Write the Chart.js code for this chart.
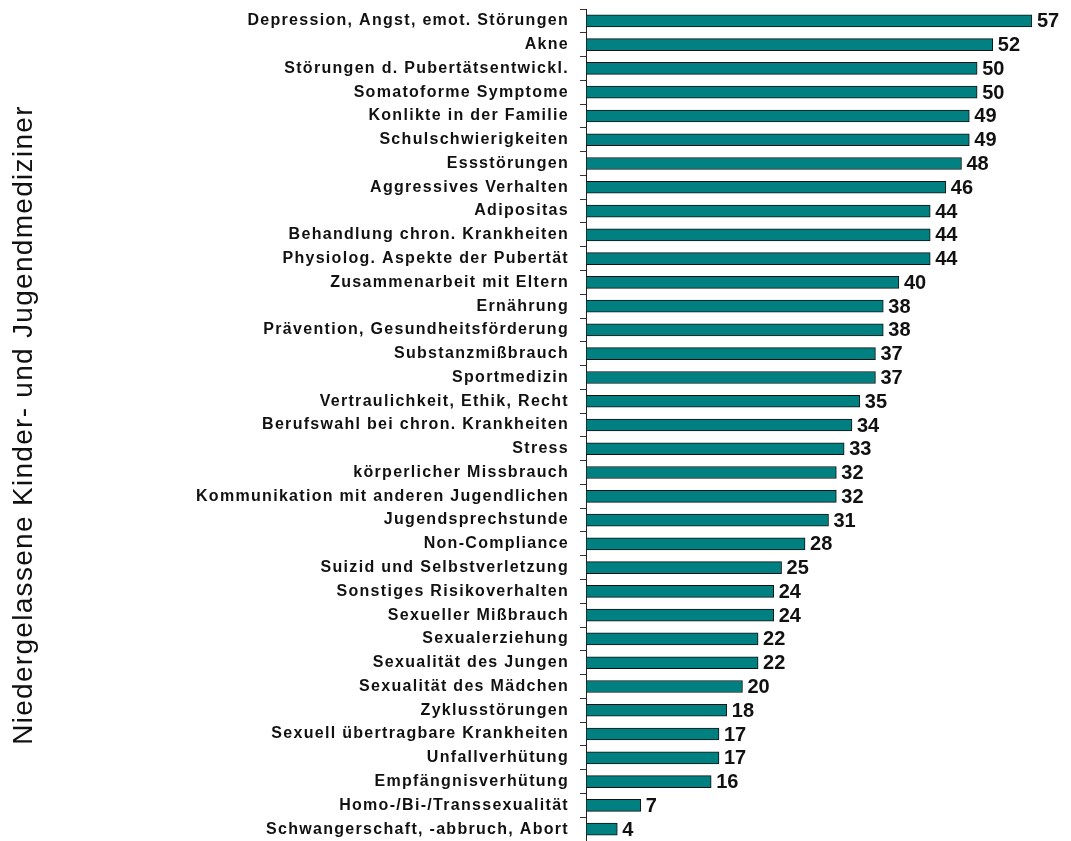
<!DOCTYPE html>
<html><head><meta charset="utf-8">
<script src="https://cdn.jsdelivr.net/npm/chart.js@4.4.1/dist/chart.umd.min.js"></script>
<style>html,body{margin:0;padding:0;background:#fff}#wrap{width:1071px;height:841px}</style>
</head><body><div id="wrap"><canvas id="c" width="1071" height="841"></canvas></div>
<script>
const categories = [
 "Depression, Angst, emot. Störungen","Akne","Störungen d. Pubertätsentwickl.","Somatoforme Symptome",
 "Konlikte in der Familie","Schulschwierigkeiten","Essstörungen","Aggressives Verhalten","Adipositas",
 "Behandlung chron. Krankheiten","Physiolog. Aspekte der Pubertät","Zusammenarbeit mit Eltern","Ernährung",
 "Prävention, Gesundheitsförderung","Substanzmißbrauch","Sportmedizin","Vertraulichkeit, Ethik, Recht",
 "Berufswahl bei chron. Krankheiten","Stress","körperlicher Missbrauch","Kommunikation mit anderen Jugendlichen",
 "Jugendsprechstunde","Non-Compliance","Suizid und Selbstverletzung","Sonstiges Risikoverhalten",
 "Sexueller Mißbrauch","Sexualerziehung","Sexualität des Jungen","Sexualität des Mädchen","Zyklusstörungen",
 "Sexuell übertragbare Krankheiten","Unfallverhütung","Empfängnisverhütung","Homo-/Bi-/Transsexualität",
 "Schwangerschaft, -abbruch, Abort"
];
const values = [57,52,50,50,49,49,48,46,44,44,44,40,38,38,37,37,35,34,33,32,32,31,28,25,24,24,22,22,20,18,17,17,16,7,4];
const axisTitle = "Niedergelassene Kinder- und Jugendmediziner";

const spacingPlugin = {
  id:'spacing',
  beforeDraw(chart){ chart.ctx.letterSpacing = '1.3px'; }
};
const valueLabels = {
  id:'valueLabels',
  afterDatasetsDraw(chart){
    const ctx = chart.ctx;
    const meta = chart.getDatasetMeta(0);
    ctx.save();
    ctx.letterSpacing = '0px';
    ctx.font = 'bold 20px "Liberation Sans", Arial, sans-serif';
    ctx.fillStyle = '#111';
    ctx.textAlign = 'left';
    ctx.textBaseline = 'middle';
    meta.data.forEach((bar,i)=>{
      ctx.fillText(String(chart.data.datasets[0].data[i]), bar.x + 5, bar.y + 1);
    });
    ctx.restore();
  }
};

new Chart(document.getElementById('c'), {
  type:'bar',
  data:{ labels: categories, datasets:[{ data: values, backgroundColor:'#008080', borderColor:'#111', borderWidth:1, borderSkipped:false, barThickness:12 }]},
  options:{
    indexAxis:'y', responsive:false, animation:false,
    layout:{ padding:{ top:9, bottom:0, left:0, right:0 } },
    plugins:{ legend:{display:false}, tooltip:{enabled:false} },
    scales:{
      x:{ display:false, min:0, max:62 },
      y:{
        afterFit(s){ s.width = 586; s.paddingTop = 0; s.paddingBottom = 0; },
        grid:{ offset:true, drawOnChartArea:false, drawTicks:true, tickLength:6, color:'#333' },
        border:{ display:true, color:'#222', width:1 },
        ticks:{ autoSkip:false, padding:11, color:'#111', font:{ family:'"Liberation Sans", Arial, sans-serif', size:16, weight:'bold' } },
        title:{ display:true, text: axisTitle, color:'#111', padding:{top:7,bottom:0}, font:{ family:'"Liberation Sans", Arial, sans-serif', size:28, weight:'normal' } }
      }
    }
  },
  plugins:[spacingPlugin, valueLabels]
});
</script></body></html>
